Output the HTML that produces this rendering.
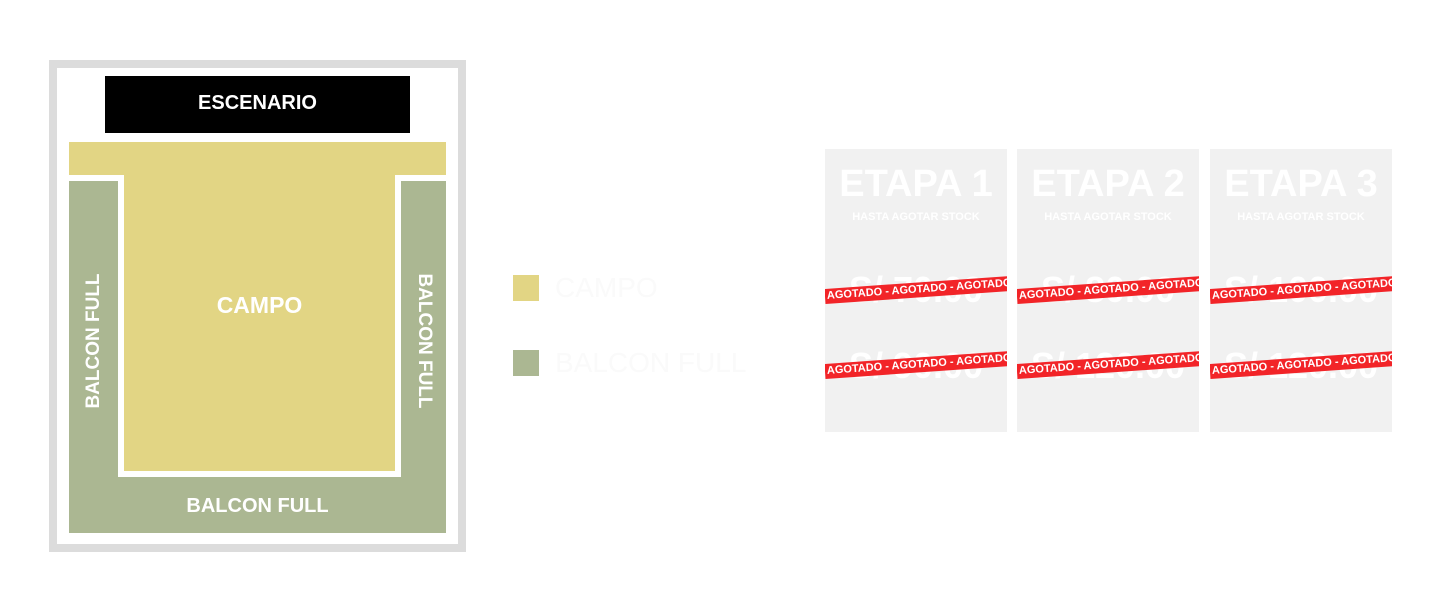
<!DOCTYPE html>
<html><head><meta charset="utf-8"><style>
body{margin:0;width:1440px;height:616px;background:#fff;position:relative;overflow:hidden;font-family:"Liberation Sans",sans-serif}
.a{position:absolute}
.t{color:#fff;font-weight:bold;text-align:center}
.card{position:absolute;top:149px;width:182px;height:283px;background:#f1f1f1;overflow:hidden}
.card .h{position:absolute;top:14px;left:0;width:100%;font-size:38px;font-weight:bold;color:#fff;text-align:center}
.card .s{position:absolute;top:62px;left:0;width:100%;font-size:11px;font-weight:bold;color:#fff;text-align:center}
.card .p{position:absolute;left:0;width:100%;font-size:36px;font-weight:bold;color:#fff;text-align:center}
.band{position:absolute;left:0;width:200px;height:15px;padding-left:2px;background:#f22428;color:#fff;font-size:11px;font-weight:bold;line-height:15px;white-space:nowrap;transform:rotate(-4deg);transform-origin:left center}
</style></head><body>
<div class="a" style="left:49px;top:60px;width:401px;height:476px;border:8px solid #dcdcdc"></div>
<div class="a" style="left:105px;top:76px;width:305px;height:57px;background:#000"></div>
<div class="a t" style="left:105px;top:92px;width:305px;font-size:20px">ESCENARIO</div>
<div class="a" style="left:69px;top:142px;width:377px;height:33px;background:#e2d584"></div>
<div class="a" style="left:69px;top:181px;width:377px;height:352px;background:#abb792"></div>
<div class="a" style="left:118px;top:175px;width:283px;height:302px;background:#fff"></div>
<div class="a" style="left:124px;top:175px;width:271px;height:296px;background:#e2d584"></div>
<div class="a t" style="left:124px;top:292px;width:271px;font-size:23px">CAMPO</div>
<div class="a t" style="left:169px;top:495px;width:177px;font-size:20px">BALCON FULL</div>
<div class="a t" style="left:14px;top:330px;width:160px;font-size:19px;transform:rotate(-90deg)">BALCON FULL</div>
<div class="a t" style="left:344px;top:330px;width:160px;font-size:19px;transform:rotate(90deg)">BALCON FULL</div>
<div class="a" style="left:513px;top:275px;width:26px;height:26px;background:#e2d584"></div>
<div class="a" style="left:513px;top:350px;width:26px;height:26px;background:#abb792"></div>
<div class="a" style="left:555px;top:272px;font-size:28px;color:#fafafa">CAMPO</div>
<div class="a" style="left:555px;top:347px;font-size:28px;color:#fafafa">BALCON FULL</div>

<div class="card" style="left:825px"><div class="h">ETAPA 1</div><div class="s">HASTA AGOTAR STOCK</div><div class="p" style="top:120px">S/ 70.00</div><div class="p" style="top:196px">S/ 90.00</div>
<div class="band" style="top:140px">AGOTADO - AGOTADO - AGOTADO - AGOTADO</div><div class="band" style="top:215px">AGOTADO - AGOTADO - AGOTADO - AGOTADO</div></div>
<div class="card" style="left:1017px"><div class="h">ETAPA 2</div><div class="s">HASTA AGOTAR STOCK</div><div class="p" style="top:120px">S/ 80.00</div><div class="p" style="top:196px">S/ 120.00</div>
<div class="band" style="top:140px">AGOTADO - AGOTADO - AGOTADO</div><div class="band" style="top:215px">AGOTADO - AGOTADO - AGOTADO</div></div>
<div class="card" style="left:1210px"><div class="h">ETAPA 3</div><div class="s">HASTA AGOTAR STOCK</div><div class="p" style="top:120px">S/ 100.00</div><div class="p" style="top:196px">S/ 120.00</div>
<div class="band" style="top:140px">AGOTADO - AGOTADO - AGOTADO</div><div class="band" style="top:215px">AGOTADO - AGOTADO - AGOTADO</div></div>
</body></html>
